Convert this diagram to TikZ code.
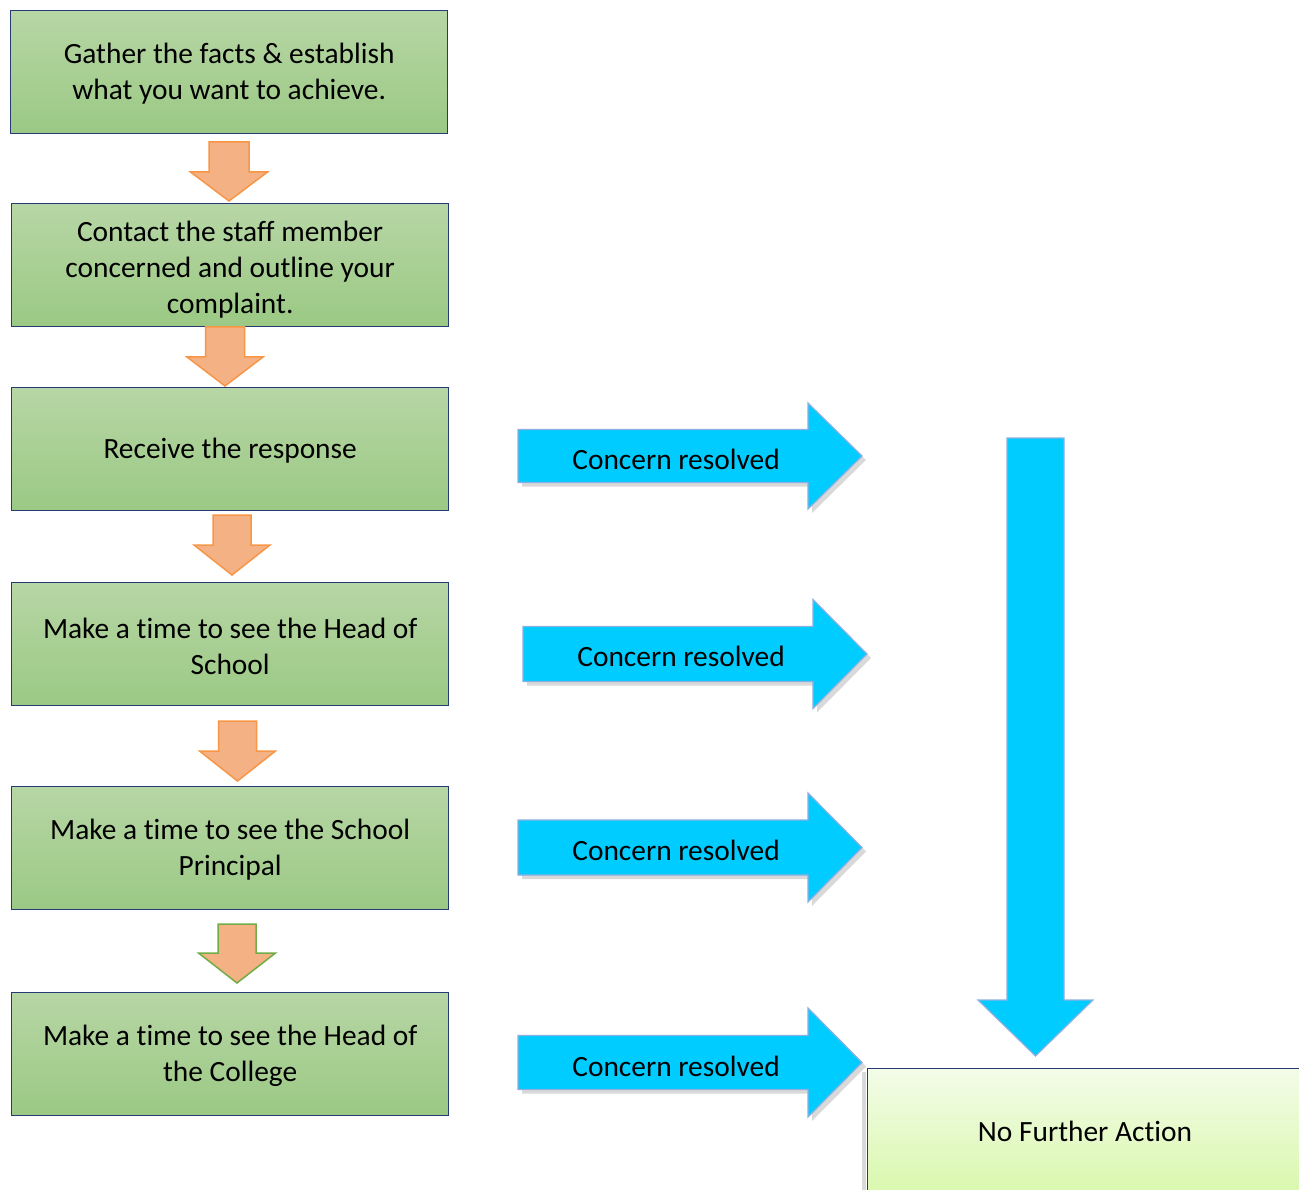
\documentclass[tikz,border=0pt]{standalone}
\usepackage{fontspec}
\setmainfont{Carlito}[Ligatures={NoCommon,NoContextual,NoRare}]
\definecolor{gtop}{RGB}{183,214,165}
\definecolor{gbot}{RGB}{155,201,132}
\definecolor{navy}{RGB}{38,58,118}
\definecolor{ofill}{RGB}{244,177,131}
\definecolor{oline}{RGB}{247,150,70}
\definecolor{gline}{RGB}{112,173,71}
\definecolor{bfill}{RGB}{0,204,255}
\definecolor{bline}{RGB}{140,175,225}
\definecolor{ltop}{RGB}{243,252,232}
\definecolor{lbot}{RGB}{214,247,166}
\newcommand\dnarrow[7][]{\draw[#1] ({#2-#3},#5) -- ({#2+#3},#5) -- ({#2+#3},#6) -- ({#2+#4},#6) -- (#2,#7) -- ({#2-#4},#6) -- ({#2-#3},#6) -- cycle;}
\newcommand\rtarrow[7][]{%
  \fill[black,opacity=0.15] ({#2+4},{#5-#6+4}) -- ({#3+4},{#5-#6+4}) -- ({#3+4},{#5-#7+4}) -- ({#4+4},{#5+4}) -- ({#3+4},{#5+#7+4}) -- ({#3+4},{#5+#6+4}) -- ({#2+4},{#5+#6+4}) -- cycle;
  \draw[#1] (#2,{#5-#6}) -- (#3,{#5-#6}) -- (#3,{#5-#7}) -- (#4,#5) -- (#3,{#5+#7}) -- (#3,{#5+#6}) -- (#2,{#5+#6}) -- cycle;}
\begin{document}
\begin{tikzpicture}[x=1pt,y=-1pt,
  txt/.style={font=\fontsize{29.4}{36}\selectfont, align=center, text=black},
  box/.style={draw=navy, line width=1.3pt, top color=gtop, bottom color=gbot,
    minimum width=437pt, minimum height=123pt, anchor=north west, inner sep=0pt},
  oarrow/.style={fill=ofill, draw=oline, line width=1.5pt, line join=miter},
  garrow/.style={fill=ofill, draw=gline, line width=1.5pt, line join=miter},
  barrow/.style={fill=bfill, draw=bline, line width=1.2pt, line join=miter}]
\useasboundingbox (0,0) rectangle (1299,1190);
\clip (0,0) rectangle (1299,1190);
% green step boxes
\node[box] (b1) at (10,10) {};
\node[box] (b2) at (11,203) {};
\node[box] (b3) at (11,387) {};
\node[box] (b4) at (11,582) {};
\node[box] (b5) at (11,786) {};
\node[box] (b6) at (11,992) {};
\node[txt] (t1) at ([yshift=-2pt]b1.center) {Gather the facts \& establish\\what you want to achieve.};
\node[txt] (t2) at ([yshift=-5pt]b2.center) {Contact the staff member\\concerned and outline your\\complaint.};
\node[txt] (t3) at ([yshift=-2pt]b3.center) {Receive the response};
\node[txt] (t4) at ([yshift=-2pt]b4.center) {Make a t\kern0pt ime to see the Head of\\School};
\node[txt] (t5) at ([yshift=-2pt]b5.center) {Make a t\kern0pt ime to see the School\\Principal};
\node[txt] (t6) at ([yshift=-2pt]b6.center) {Make a t\kern0pt ime to see the Head of\\the College};
% orange down arrows
\dnarrow[oarrow]{229}{20}{38.5}{142}{172}{201}
\dnarrow[oarrow]{225}{19.5}{38}{327}{357}{386}
\dnarrow[oarrow]{232}{19}{38}{515}{545}{575}
\dnarrow[oarrow]{237.5}{19}{38}{721}{751}{781}
\dnarrow[garrow]{237}{19}{38.5}{924}{953}{983}
% blue right arrows
\rtarrow[barrow]{518}{808}{862}{456}{26.5}{53}
\rtarrow[barrow]{523}{813}{867}{654}{27.5}{54.5}
\rtarrow[barrow]{518}{808}{862}{847.5}{27.5}{54.5}
\rtarrow[barrow]{518}{808}{862}{1062.5}{27}{54.5}
\node[txt] (r1) at (676,459) {Concern resolved};
\node[txt] (r2) at (681,656) {Concern resolved};
\node[txt] (r3) at (676,850) {Concern resolved};
\node[txt] (r4) at (676,1066) {Concern resolved};
% big down arrow
\dnarrow[barrow]{1035.5}{28.5}{57.5}{438}{1000}{1056}
% final box
\fill[black,opacity=0.15] (862,1072) rectangle (866,1200);
\node[draw=navy, line width=1.3pt, top color=ltop, bottom color=lbot,
  minimum width=440pt, minimum height=140pt, anchor=north west, inner sep=0pt] (nfa) at (867,1068) {};
\node[txt] (nfat) at (1085,1131) {No Further Action};
\end{tikzpicture}
\end{document}
